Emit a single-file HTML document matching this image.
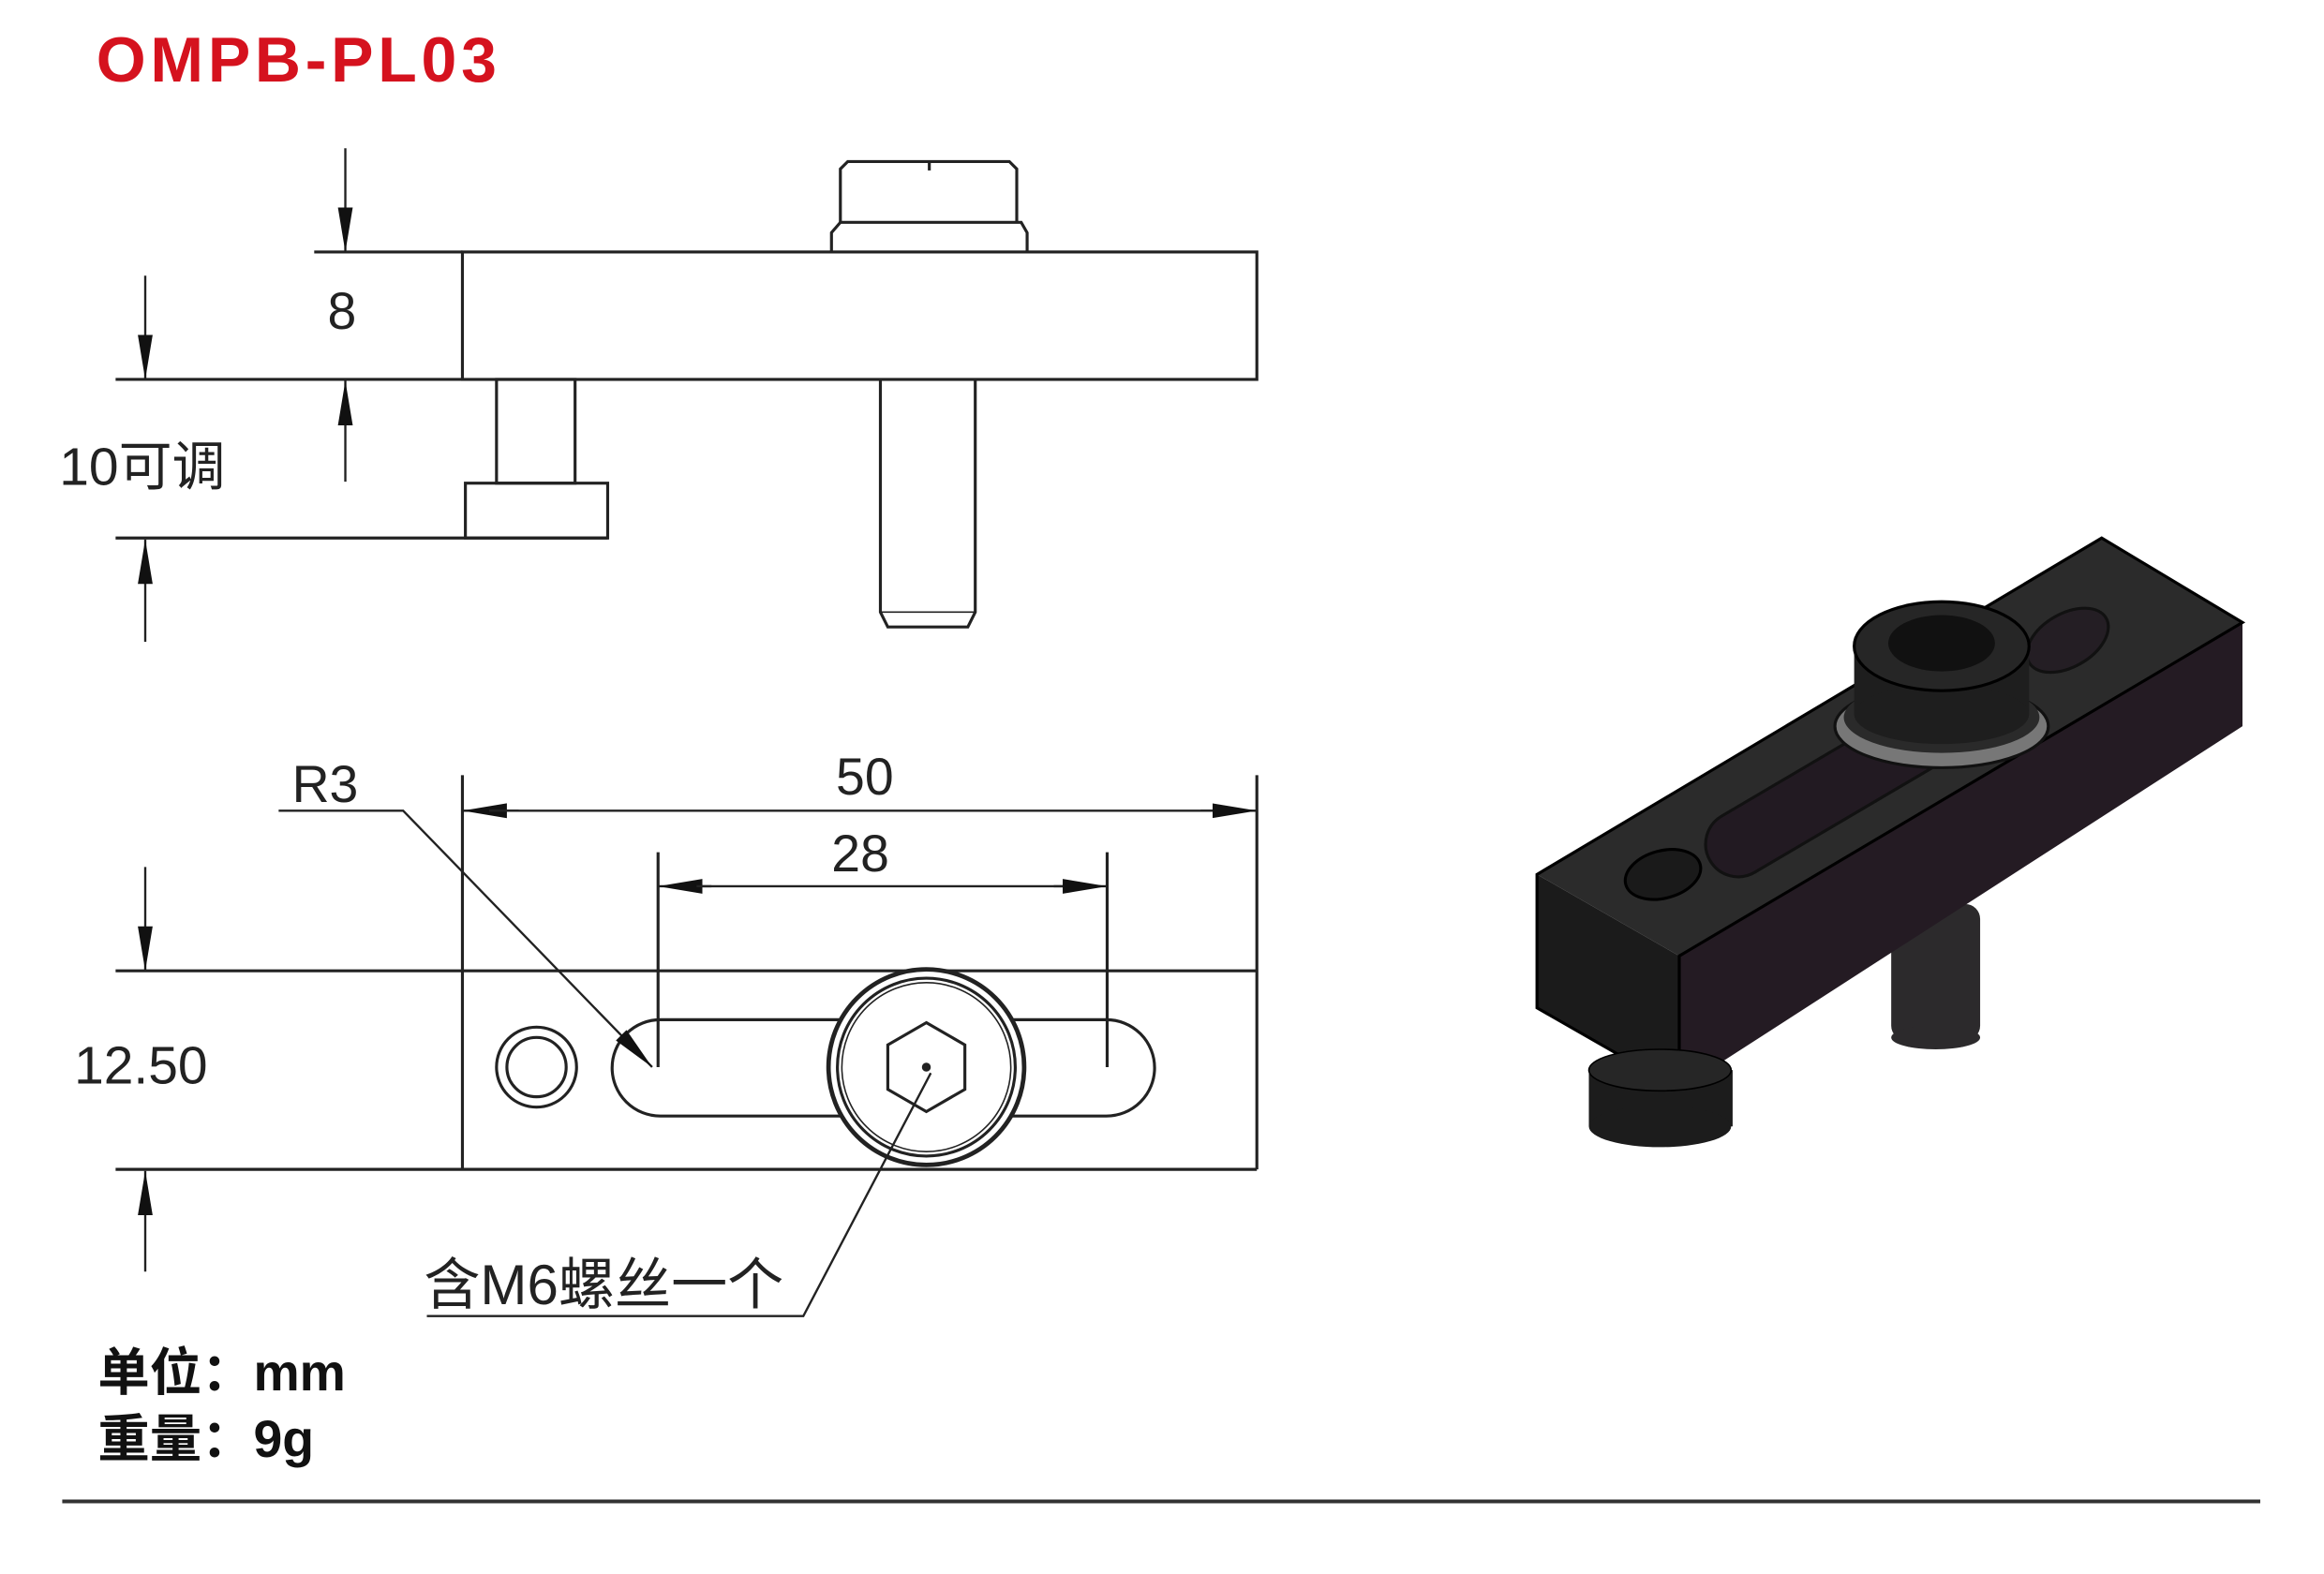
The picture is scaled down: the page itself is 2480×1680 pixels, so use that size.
<!DOCTYPE html>
<html><head><meta charset="utf-8"><style>
html,body{margin:0;padding:0;background:#fff;width:2480px;height:1680px;overflow:hidden}
svg{display:block}
text{font-family:"Liberation Sans","Noto Sans CJK SC",sans-serif}
</style></head><body>
<svg width="2480" height="1680" viewBox="0 0 1568 1062" preserveAspectRatio="none" xmlns="http://www.w3.org/2000/svg">
<defs>
<marker id="b" viewBox="0 0 30 12" refX="30" refY="6" markerWidth="30" markerHeight="12" markerUnits="userSpaceOnUse" orient="auto"><path d="M0,1 L30,6 L0,11 z" fill="#111"/></marker>
</defs>
<rect width="1568" height="1062" fill="#fff"/>
<text x="65" y="55" font-size="43" font-weight="bold" fill="#d5121e" letter-spacing="3">OMPB-PL03</text>
<g stroke="#222" stroke-width="2" fill="none">
<rect x="312" y="170" width="536" height="86"/>
<line x1="212" y1="170" x2="312" y2="170"/>
<line x1="78" y1="256" x2="312" y2="256"/>
<line x1="78" y1="363" x2="410" y2="363"/>
<path d="M561,170 V157 L567,150 H689 L693,157 V170"/>
<path d="M567,150 V114 L572,109 H681 L686,114 V150"/>
<line x1="627" y1="109" x2="627" y2="115"/>
<rect x="335" y="256" width="53" height="70"/>
<rect x="314" y="326" width="96" height="37"/>
<path d="M594,256 V413 L599,423 H653 L658,413 V256"/>
<line x1="594" y1="413" x2="658" y2="413" stroke-width="1"/>
<line x1="233" y1="100" x2="233" y2="170" stroke-width="1.5" marker-end="url(#b)"/>
<line x1="233" y1="325" x2="233" y2="257" stroke-width="1.5" marker-end="url(#b)"/>
<line x1="98" y1="186" x2="98" y2="256" stroke-width="1.5" marker-end="url(#b)"/>
<line x1="98" y1="433" x2="98" y2="364" stroke-width="1.5" marker-end="url(#b)"/>
<line x1="78" y1="655" x2="848" y2="655"/>
<line x1="78" y1="789" x2="848" y2="789"/>
<line x1="312" y1="523" x2="312" y2="789"/>
<line x1="848" y1="523" x2="848" y2="789"/>
<line x1="350" y1="547" x2="312" y2="547" stroke-width="1.5" marker-end="url(#b)"/>
<line x1="330" y1="547" x2="830" y2="547" stroke-width="1.5"/>
<line x1="810" y1="547" x2="848" y2="547" stroke-width="1.5" marker-end="url(#b)"/>
<line x1="444" y1="575" x2="444" y2="720"/>
<line x1="747" y1="575" x2="747" y2="720"/>
<line x1="480" y1="598" x2="444" y2="598" stroke-width="1.5" marker-end="url(#b)"/>
<line x1="470" y1="598" x2="720" y2="598" stroke-width="1.5"/>
<line x1="711" y1="598" x2="747" y2="598" stroke-width="1.5" marker-end="url(#b)"/>
<rect x="413" y="688" width="366" height="65" rx="32.5"/>
<circle cx="362" cy="720" r="27"/>
<circle cx="362" cy="720" r="20"/>
<circle cx="625" cy="720" r="66" fill="#fff" stroke-width="3"/>
<circle cx="625" cy="720" r="60"/>
<circle cx="625" cy="720" r="57" stroke-width="1"/>
<path d="M625,690 L651,705 L651,735 L625,750 L599,735 L599,705 z"/>
<circle cx="625" cy="720" r="2" fill="#222"/>
<line x1="98" y1="585" x2="98" y2="655" stroke-width="1.5" marker-end="url(#b)"/>
<line x1="98" y1="858" x2="98" y2="790" stroke-width="1.5" marker-end="url(#b)"/>
<path d="M188,547 H272 L440,720" stroke-width="1.5" marker-end="url(#b)"/>
<path d="M288,888 H542 L628,724" stroke-width="1.5"/>
<line x1="42" y1="1013" x2="1525" y2="1013" stroke="#333" stroke-width="2.5"/>
</g>
<g fill="#222" font-size="35">
<text x="221" y="222">8</text>
<text x="40" y="327" font-size="36">10可调</text>
<text x="197" y="541">R3</text>
<text x="564" y="536">50</text>
<text x="561" y="588">28</text>
<text x="50" y="731" font-size="36">12.50</text>
<text x="286" y="880" font-size="38">含M6螺丝一个</text>
</g>
<g fill="#111" font-size="35" font-weight="bold">
<text x="66" y="938">单位：mm</text>
<text x="66" y="983">重量：9g</text>
</g>
<g>
<rect x="1276" y="610" width="60" height="92" rx="10" fill="#2c2a2c"/>
<ellipse cx="1306" cy="700" rx="30" ry="8" fill="#2c2a2c"/>
<rect x="1096" y="690" width="48" height="35" fill="#3a3a3a"/>
<polygon points="1037,590 1133,645 1133,735 1037,680" fill="#1b1b1b"/>
<polygon points="1133,645 1513,420 1513,490 1133,735" fill="#241b23"/>
<polygon points="1037,590 1418,363 1513,420 1133,645" fill="#2b2b2b"/>
<polygon points="1037,590 1418,363 1513,420 1133,645 1133,735 1037,680" fill="none" stroke="#000" stroke-width="2"/>
<g transform="translate(1240,530) rotate(-30.5)">
<rect x="-100" y="-22" width="230" height="44" rx="22" fill="#221a22" stroke="#111" stroke-width="2"/>
</g>
<ellipse cx="1395" cy="432" rx="30" ry="18" transform="rotate(-30 1395 432)" fill="#241e24" stroke="#111" stroke-width="2"/>
<ellipse cx="1122" cy="590" rx="26" ry="16" transform="rotate(-15 1122 590)" fill="#1a1a1a" stroke="#000" stroke-width="2"/>
<rect x="1072" y="722" width="97" height="38" fill="#1c1c1c"/>
<ellipse cx="1120" cy="760" rx="48" ry="14" fill="#1c1c1c"/>
<ellipse cx="1120" cy="722" rx="48" ry="14" fill="#262626" stroke="#000"/>
<ellipse cx="1310" cy="490" rx="72" ry="28" fill="#777" stroke="#111" stroke-width="2"/>
<ellipse cx="1310" cy="484" rx="66" ry="24" fill="#2a2a2a"/>
<rect x="1251" y="436" width="118" height="46" fill="#1e1e1e"/>
<ellipse cx="1310" cy="482" rx="59" ry="20" fill="#1e1e1e"/>
<ellipse cx="1310" cy="436" rx="59" ry="30" fill="#262626" stroke="#000" stroke-width="2"/>
<ellipse cx="1310" cy="434" rx="36" ry="19" fill="#111"/>
</g>
</svg>
</body></html>
